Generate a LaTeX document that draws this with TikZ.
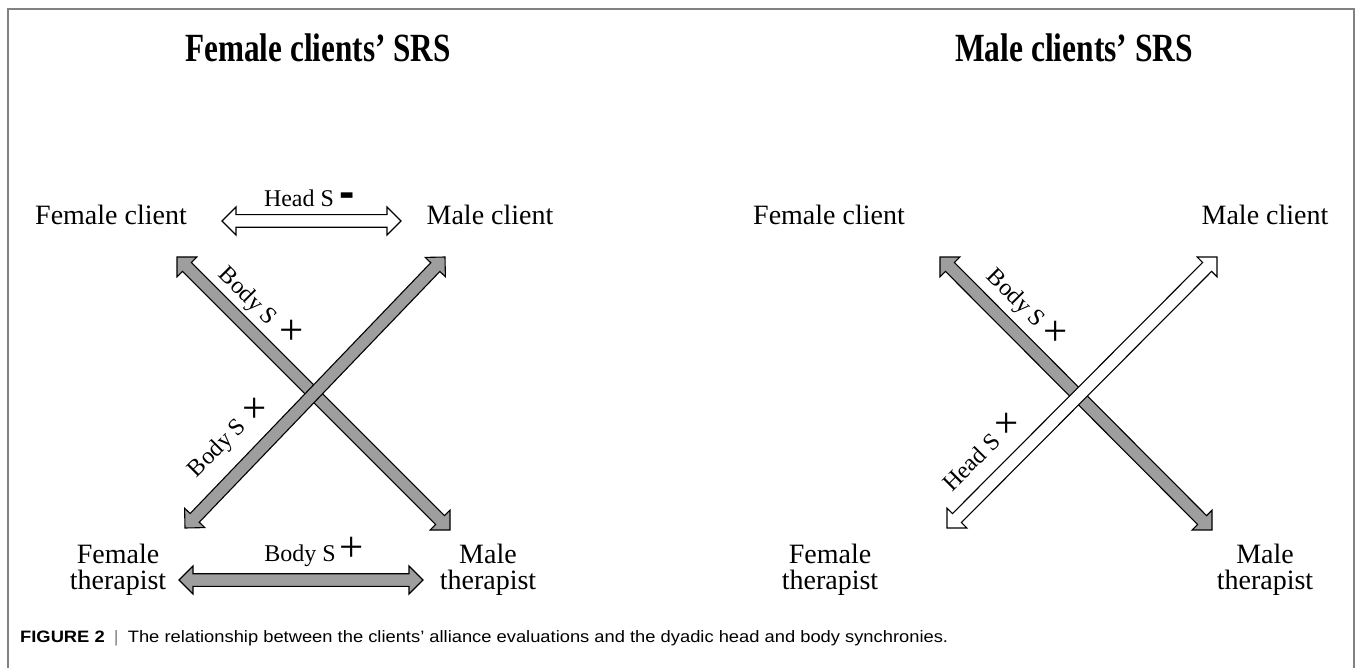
\documentclass[tikz,border=0pt]{standalone}
\usepackage{fontspec}
\setmainfont{Liberation Serif}
\newfontfamily\capfont{Liberation Sans}
\usetikzlibrary{calc}
\definecolor{arrgray}{RGB}{158,158,158}
\definecolor{framegray}{RGB}{130,130,130}
\newcommand\fatarrow[3]{%
  \coordinate (fa1) at ($(#1)!14pt!(#2)$);
  \coordinate (fa2) at ($(#2)!14pt!(#1)$);
  \filldraw[fill=#3, draw=black, line width=1.1pt, line join=miter]
    (#1) -- ($(fa1)!14pt!90:(#2)$) -- ($(fa1)!6.3pt!90:(#2)$)
    -- ($(fa2)!6.3pt!-90:(#1)$) -- ($(fa2)!14pt!-90:(#1)$) -- (#2)
    -- ($(fa2)!14pt!90:(#1)$) -- ($(fa2)!6.3pt!90:(#1)$)
    -- ($(fa1)!6.3pt!-90:(#2)$) -- ($(fa1)!14pt!-90:(#2)$) -- cycle;
}
\tikzset{
  person/.style={inner sep=0pt, font=\fontsize{28}{26}\selectfont, align=center, anchor=base},
  title/.style={inner sep=0pt, anchor=base, font=\fontsize{40}{40}\selectfont\bfseries},
  lab/.style={inner sep=0pt, font=\fontsize{24}{24}\selectfont},
  plus/.style={inner sep=0pt, font=\fontsize{43}{43}\selectfont},
  minus/.style={inner sep=0pt, anchor=base, font=\capfont\fontsize{46}{46}\selectfont\bfseries},
}
\begin{document}
\begin{tikzpicture}[x=1pt,y=-1pt]
\useasboundingbox (0,0) rectangle (1357,668);
\draw[framegray, line width=1.3pt] (8,668) -- (8,9) -- (1354,9) -- (1354,668);

% titles
\node[title] (t1) at (318,62) {\resizebox{265pt}{\height}{Female clients’ SRS}};
\node[title] (t2) at (1074,62) {\resizebox{238pt}{\height}{Male clients’ SRS}};

% left panel people
\node[person] (fc1) at (111,225) {Female client};
\node[person] (mc1) at (490,225) {Male client};
\node[person] (ft1) at (118,589) {Female\\therapist};
\node[person] (mt1) at (488,589) {Male\\therapist};

% right panel people
\node[person] (fc2) at (829,225) {Female client};
\node[person] (mc2) at (1265,225) {Male client};
\node[person] (ft2) at (830,589) {Female\\therapist};
\node[person] (mt2) at (1265,589) {Male\\therapist};

% left panel arrows
\coordinate (h1a) at (222,221); \coordinate (h1b) at (401,221);
\coordinate (b1a) at (179,580); \coordinate (b1b) at (423,580);
\coordinate (d1a) at (177,257); \coordinate (d1b) at (450,530);
\coordinate (d2a) at (185,528); \coordinate (d2b) at (445,257);
\fatarrow{h1a}{h1b}{white}
\fatarrow{b1a}{b1b}{arrgray}
\fatarrow{d1a}{d1b}{arrgray}
\fatarrow{d2a}{d2b}{arrgray}

% right panel arrows
\coordinate (d3a) at (940,257); \coordinate (d3b) at (1212,530);
\coordinate (d4a) at (947,528); \coordinate (d4b) at (1217,257);
\fatarrow{d3a}{d3b}{arrgray}
\fatarrow{d4a}{d4b}{white}

% left labels
\node[lab, anchor=base] (lh) at (299,207) {Head S};
\node[minus] (lhm) at (347,208) {-};
\node[lab, anchor=base] (lb) at (300,561) {Body S};
\node[plus] (lbp) at (352,549) {+};
\node[lab, rotate=-45] (ld1) at (247,297) {Body S};
\node[plus] (ld1p) at (292,332) {+};
\node[lab, rotate=45] (ld2) at (218,449) {Body S};
\node[plus] (ld2p) at (255,410) {+};

% right labels
\node[lab, rotate=-45] (rd1) at (1015,299) {Body S};
\node[plus] (rd1p) at (1056,333) {+};
\node[lab, rotate=45] (rd2) at (971,462) {Head S};
\node[plus] (rd2p) at (1007,425) {+};

% caption
\node[inner sep=0pt, anchor=base west, font=\capfont\fontsize{16.5}{16.5}\selectfont] (cap) at (20,642)
  {\resizebox{928pt}{\height}{\textbf{FIGURE 2}\enspace{\color{framegray}|}\enspace The relationship between the clients’ alliance evaluations and the dyadic head and body synchronies.}};
\end{tikzpicture}
\end{document}
